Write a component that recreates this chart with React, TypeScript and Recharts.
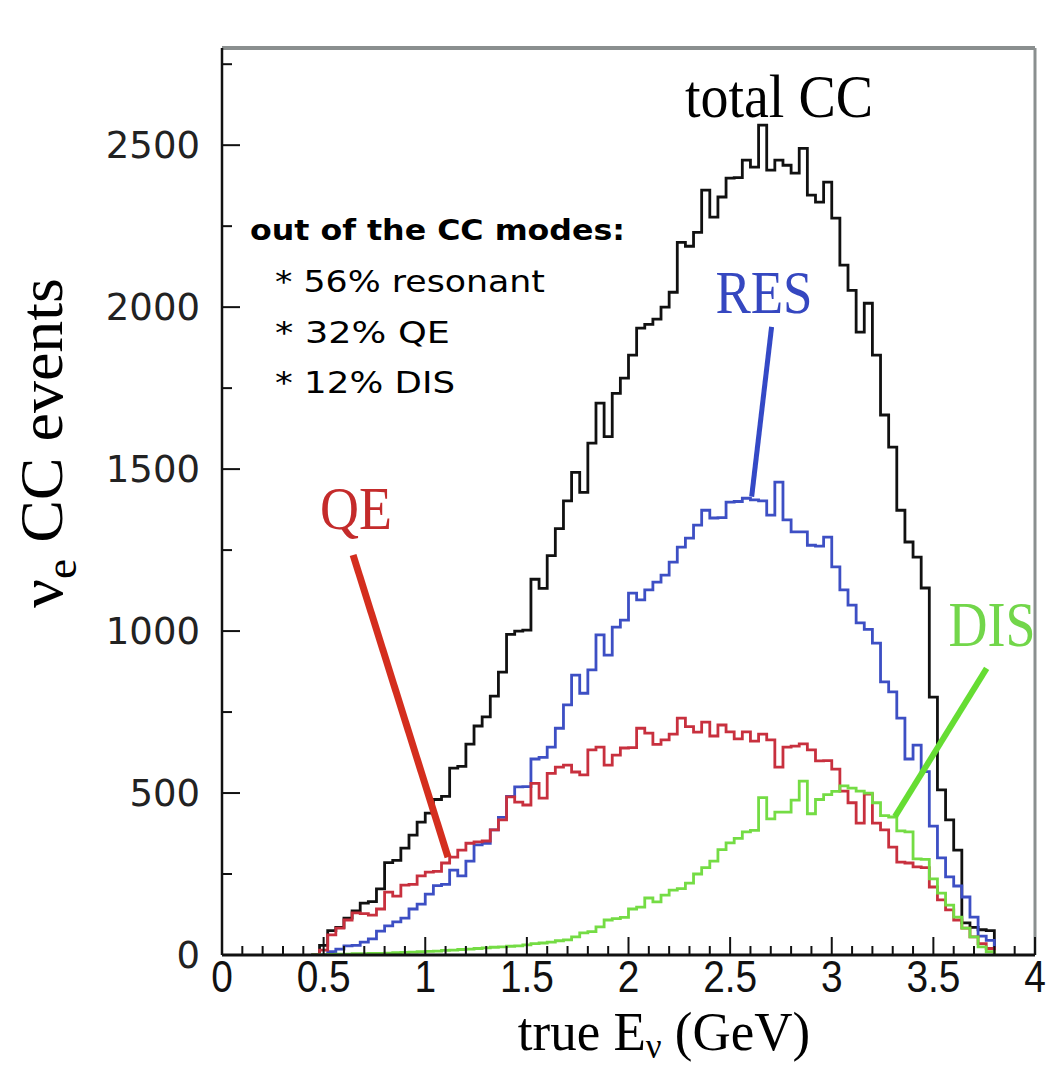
import React from 'react';
import { LineChart, Line, XAxis, YAxis, ReferenceLine } from 'recharts';

// ---- histogram definition: 0.04 GeV bins, first filled bin starts at 0.48 GeV ----
const BIN_WIDTH = 0.04;
const FIRST_BIN = 12;

const TOTAL_CC = [
  30, 75, 85, 114, 136, 160, 165, 204, 285, 292,
  330, 370, 410, 438, 480, 490, 577, 582, 651, 707,
  735, 799, 873, 990, 1000, 1003, 1160, 1132, 1233, 1316,
  1402, 1490, 1428, 1580, 1704, 1600, 1734, 1781, 1852, 1935,
  1947, 1963, 2000, 2046, 2200, 2188, 2231, 2361, 2278, 2340,
  2398, 2400, 2454, 2432, 2562, 2423, 2454, 2438, 2414, 2490,
  2346, 2324, 2386, 2275, 2130, 2052, 1923, 2012, 1852, 1667,
  1568, 1373, 1275, 1228, 1133, 796, 510, 417, 324, 99,
  85, 78, 75,
];

const RES = [
  0, 10, 18, 28, 30, 40, 50, 74, 90, 102,
  114, 142, 157, 188, 214, 218, 262, 244, 290, 340,
  345, 386, 425, 490, 519, 520, 605, 610, 642, 700,
  772, 864, 808, 880, 988, 926, 1012, 1034, 1117, 1096,
  1127, 1151, 1173, 1213, 1259, 1287, 1327, 1373, 1349, 1350,
  1398, 1400, 1410, 1405, 1402, 1358, 1460, 1343, 1306, 1306,
  1265, 1262, 1290, 1198, 1127, 1080, 1025, 1005, 963, 843,
  812, 731, 605, 648, 566, 398, 300, 241, 213, 179,
  117, 58, 45,
];

const QE = [
  15, 62, 83, 108, 130, 128, 123, 142, 194, 182,
  216, 218, 244, 256, 258, 284, 302, 324, 345, 349,
  352, 386, 417, 488, 472, 463, 530, 484, 561, 580,
  586, 565, 556, 633, 642, 586, 617, 639, 640, 700,
  685, 650, 664, 682, 731, 705, 688, 719, 676, 710,
  689, 667, 689, 660, 682, 664, 580, 642, 645, 652,
  633, 599, 600, 574, 506, 470, 407, 497, 407, 386,
  333, 287, 284, 272, 270, 210, 170, 139, 108, 83,
  56, 35, 20,
];

const DIS = [
  0, 2, 3, 3, 4, 4, 5, 5, 6, 7,
  8, 9, 10, 11, 12, 14, 15, 17, 18, 20,
  22, 24, 25, 27, 28, 31, 35, 37, 40, 44,
  47, 56, 68, 72, 87, 108, 112, 116, 142, 148,
  176, 164, 185, 200, 205, 222, 250, 270, 290, 325,
  346, 360, 380, 385, 486, 420, 441, 441, 478, 537,
  436, 480, 495, 505, 522, 515, 506, 500, 470, 430,
  426, 383, 380, 297, 295, 235, 191, 154, 117, 83,
  56, 25, 10,
];

const X_MAJOR_TICKS = [0, 0.5, 1, 1.5, 2, 2.5, 3, 3.5, 4];
const X_TICK_LABELS = ['0', '0.5', '1', '1.5', '2', '2.5', '3', '3.5', '4'];
const X_MINOR_STEP = 0.1;
const X_DOMAIN = [0, 4];

const Y_MAJOR_TICKS = [0, 500, 1000, 1500, 2000, 2500];
const Y_TICK_LABELS = ['0', '500', '1000', '1500', '2000', '2500'];
const Y_MINOR_STEP = 250;
const Y_DOMAIN = [0, 2800];

// pointer lines (data coordinates): [from, to]
const QE_POINTER = [{ x: 0.645, y: 1235 }, { x: 1.112, y: 302 }];
const RES_POINTER = [{ x: 2.704, y: 1939 }, { x: 2.606, y: 1415 }];
const DIS_POINTER = [{ x: 3.762, y: 885 }, { x: 3.311, y: 427 }];

// ---- build step data ----
const data: any[] = [];
data.push({ e: +((FIRST_BIN - 1) * BIN_WIDTH).toFixed(2), total: 0, res: 0, qe: 0, dis: 0 });
TOTAL_CC.forEach((v, i) => {
  data.push({
    e: +((FIRST_BIN + i) * BIN_WIDTH).toFixed(2),
    total: v,
    res: RES[i],
    qe: QE[i],
    dis: DIS[i],
  });
});
data.push({ e: +((FIRST_BIN + TOTAL_CC.length) * BIN_WIDTH).toFixed(2), total: 0, res: 0, qe: 0, dis: 0 });

const xTicks: number[] = [];
for (let i = 0; i <= Math.round((X_DOMAIN[1] - X_DOMAIN[0]) / X_MINOR_STEP); i++) {
  xTicks.push(+(X_DOMAIN[0] + i * X_MINOR_STEP).toFixed(2));
}
const yTicks: number[] = [];
for (let v = Y_DOMAIN[0]; v < Y_DOMAIN[1]; v += Y_MINOR_STEP) yTicks.push(v);

const SERIF = "'Liberation Serif', 'Times New Roman', serif";
const SANS = "'DejaVu Sans', sans-serif";
const ARIAL = "'Liberation Sans', Arial, sans-serif";

const StretchText = ({ x, y, sx = 1, sy = 1, children, ...rest }: any) => (
  <text transform={`translate(${x} ${y}) scale(${sx} ${sy})`} x={0} y={0} {...rest}>
    {children}
  </text>
);

const XTick = (props: any) => {
  const { x, y, payload } = props;
  const v = payload.value;
  const idx = X_MAJOR_TICKS.findIndex((m) => Math.abs(m - v) < 1e-6);
  const major = idx >= 0;
  return (
    <g>
      <line x1={x} x2={x} y1={y} y2={y - (major ? 18 : 9)} stroke="#111" strokeWidth={2} />
      {major && (
        <StretchText x={x} y={y + 37} sx={1.05} sy={1.18} textAnchor="middle" fontSize={37} fontFamily={ARIAL} fill="#111">
          {X_TICK_LABELS[idx]}
        </StretchText>
      )}
    </g>
  );
};

const YTick = (props: any) => {
  const { x, y, payload } = props;
  const v = payload.value;
  const idx = Y_MAJOR_TICKS.findIndex((m) => Math.abs(m - v) < 1e-6);
  const major = idx >= 0;
  return (
    <g>
      <line x1={x} x2={x + (major ? 18 : 10)} y1={y} y2={y} stroke="#111" strokeWidth={2} />
      {major && (
        <text x={x - 22} y={y + 13} textAnchor="end" fontSize={37} fontFamily={SANS} fill="#222">
          {Y_TICK_LABELS[idx]}
        </text>
      )}
    </g>
  );
};

export default function App() {
  return (
    <div style={{ position: 'absolute', left: 0, top: 0, width: 1054, height: 1066, background: '#fff' }}>
      <LineChart
        width={1054}
        height={1066}
        data={data}
        margin={{ top: 48, right: 19, bottom: 0, left: 0 }}
      >
        <XAxis
          dataKey="e"
          type="number"
          domain={X_DOMAIN}
          ticks={xTicks}
          interval={0}
          allowDataOverflow
          tickLine={false}
          tickSize={0}
          tickMargin={0}
          height={111}
          axisLine={{ stroke: '#111', strokeWidth: 3 }}
          tick={(p: any) => <XTick {...p} />}
        />
        <YAxis
          type="number"
          domain={Y_DOMAIN}
          ticks={yTicks}
          interval={0}
          allowDataOverflow
          tickLine={false}
          tickSize={0}
          tickMargin={0}
          width={222}
          axisLine={{ stroke: '#111', strokeWidth: 2.5 }}
          tick={(p: any) => <YTick {...p} />}
        />
        <ReferenceLine y={Y_DOMAIN[1]} stroke="#8a8f8f" strokeWidth={4} />
        <ReferenceLine x={X_DOMAIN[1]} stroke="#8a8f8f" strokeWidth={3} />
        <Line type="stepAfter" dataKey="total" stroke="#111" strokeWidth={2.8} dot={false} isAnimationActive={false} />
        <Line type="stepAfter" dataKey="res" stroke="#3d4fc4" strokeWidth={2.8} dot={false} isAnimationActive={false} />
        <Line type="stepAfter" dataKey="qe" stroke="#c8303e" strokeWidth={2.8} dot={false} isAnimationActive={false} />
        <Line type="stepAfter" dataKey="dis" stroke="#74dc44" strokeWidth={2.8} dot={false} isAnimationActive={false} />
        <ReferenceLine segment={QE_POINTER} stroke="#d42e1e" strokeWidth={7} />
        <ReferenceLine segment={RES_POINTER} stroke="#3449c6" strokeWidth={5} />
        <ReferenceLine segment={DIS_POINTER} stroke="#66dd33" strokeWidth={6} />
      </LineChart>
      <svg width={1054} height={1066} style={{ position: 'absolute', left: 0, top: 0, pointerEvents: 'none' }}>
        <StretchText x={779} y={117} sy={1.1} textAnchor="middle" fontSize={56} fontFamily={SERIF} fill="#000">
          total CC
        </StretchText>
        <StretchText x={764} y={313} sy={1.17} textAnchor="middle" fontSize={53} fontFamily={SERIF} fill="#3547c0">
          RES
        </StretchText>
        <StretchText x={356} y={529} sy={1.15} textAnchor="middle" fontSize={54} fontFamily={SERIF} fill="#c42b2b">
          QE
        </StretchText>
        <StretchText x={992} y={646} sy={1.18} textAnchor="middle" fontSize={54} fontFamily={SERIF} fill="#72d64a">
          DIS
        </StretchText>

        <text x={250} y={240} fontSize={29} fontWeight="bold" fontFamily={SANS} fill="#000" textLength={375} lengthAdjust="spacingAndGlyphs">
          out of the CC modes:
        </text>
        <text x={275} y={292} fontSize={30} fontFamily={SANS} fill="#000" textLength={270} lengthAdjust="spacingAndGlyphs">* 56% resonant</text>
        <text x={275} y={343} fontSize={30} fontFamily={SANS} fill="#000" textLength={175} lengthAdjust="spacingAndGlyphs">* 32% QE</text>
        <text x={275} y={393} fontSize={30} fontFamily={SANS} fill="#000" textLength={180} lengthAdjust="spacingAndGlyphs">* 12% DIS</text>

        <text
          transform="translate(62 443) rotate(-90)"
          x={0}
          y={0}
          textAnchor="middle"
          fontSize={62}
          fontFamily={SERIF}
          fill="#000"
          textLength={330}
          lengthAdjust="spacingAndGlyphs"
        >
          ν<tspan dy={14} fontSize={44}>e</tspan>
          <tspan dy={-14}> CC events</tspan>
        </text>

        <StretchText x={664} y={1050} sy={1.03} textAnchor="middle" fontSize={53} fontFamily={SERIF} fill="#000">
          true E<tspan dy={8} fontSize={35}>ν</tspan>
          <tspan dy={-8}> (GeV)</tspan>
        </StretchText>
      </svg>
    </div>
  );
}
